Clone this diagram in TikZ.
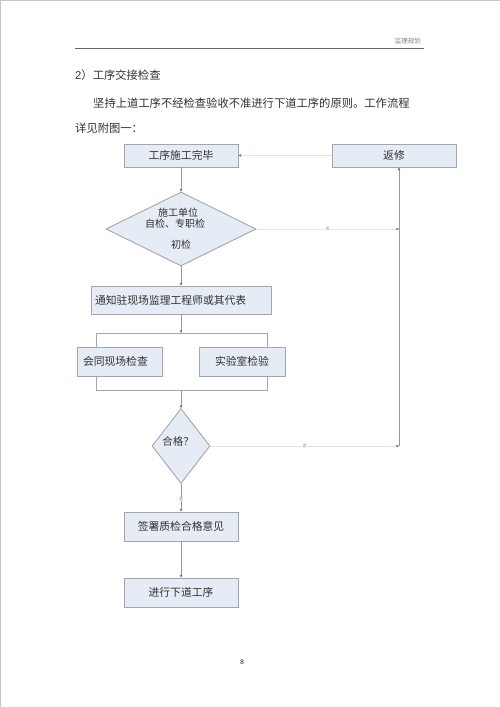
\documentclass[tikz,border=0pt]{standalone}
\usepackage{fontspec}
\setmainfont{Liberation Serif}
\newfontfamily\cjk{Noto Sans CJK SC}
\usetikzlibrary{arrows.meta,shapes.geometric}
\definecolor{boxfill}{HTML}{E6ECF6}
\definecolor{boxline}{HTML}{A3A6AB}
\definecolor{vline}{HTML}{8C98B4}
\definecolor{hline}{HTML}{E2E4E8}
\definecolor{tipc}{HTML}{4A64A0}
\definecolor{txt}{HTML}{303030}
\tikzset{
  x=1pt, y=-1pt,
  box/.style={draw=boxline, fill=boxfill, line width=0.9pt, inner sep=0pt, font=\cjk\fontsize{10.8}{12}\selectfont, text=txt},
  dia/.style={diamond, draw=boxline, fill=boxfill, line width=0.9pt, inner sep=0pt},
  plain/.style={font=\cjk\fontsize{11.3}{13}\selectfont, text=txt, inner sep=0pt, anchor=west},
  vcon/.style={draw=vline, line width=1pt, -{Stealth[length=3pt,width=2.6pt,color=tipc]}},
  hcon/.style={draw=hline, line width=1pt, -{Stealth[length=3pt,width=2.6pt,color=tipc]}},
  brk/.style={draw=boxline, line width=0.9pt},
  tiny/.style={font=\cjk\fontsize{4}{4}\selectfont, text=gray, fill=white, inner sep=0.5pt}
}
\begin{document}
\begin{tikzpicture}
\useasboundingbox (0,0) rectangle (500,707);
\draw[gray!45, line width=1pt] (0,0) rectangle (500,707);
% header
\node[font=\cjk\fontsize{6.5}{7}\selectfont, text=gray, anchor=east, inner sep=0pt] (hdr) at (421,41) {监理规划};
\coordinate (hl) at (75,48);
\coordinate (hr) at (424,48);
\draw[gray!80!black, line width=0.8pt] (hl) -- (hr);
% texts
\node[plain] (t1) at (75,75) {{\fontspec{Liberation Sans}2}）工序交接检查};
\node[plain] (t2) at (93,103) {坚持上道工序不经检查验收不准进行下道工序的原则。工作流程};
\node[plain] (t3) at (75,128) {详见附图一：};
% boxes
\node[box, minimum width=114pt, minimum height=23pt] (b1) at (181,155.5) {工序施工完毕};
\node[box, minimum width=124pt, minimum height=23pt] (fx) at (394,155.5) {返修};
\node[dia, minimum width=150pt, minimum height=74pt, aspect=2.03] (d1) at (181,229) {};
\node[font=\cjk\fontsize{10}{11}\selectfont, text=txt, inner sep=0pt] (d1a) at (178,213) {施工单位};
\node[font=\cjk\fontsize{10}{11}\selectfont, text=txt, inner sep=0pt] (d1b) at (175,224) {自检、专职检};
\node[font=\cjk\fontsize{10}{11}\selectfont, text=txt, inner sep=0pt] (d1c) at (181,245) {初检};
\node[box, minimum width=180pt, minimum height=28pt, text width=172pt, align=left] (b2) at (181,300) {通知驻现场监理工程师或其代表};
\node[box, minimum width=85pt, minimum height=29pt, text width=73pt, align=left] (b3) at (119.5,361.5) {会同现场检查};
\node[box, minimum width=86pt, minimum height=29pt] (b4) at (242,361.5) {实验室检验};
\node[dia, minimum width=58pt, minimum height=75pt, aspect=0.77] (d2) at (181,446) {};
\node[font=\cjk\fontsize{10.5}{11}\selectfont, text=txt, inner sep=0pt] (d2t) at (178,441) {合格？};
\node[box, minimum width=114pt, minimum height=29pt] (b5) at (181,526.5) {签署质检合格意见};
\node[box, minimum width=114pt, minimum height=29pt] (b6) at (181,592.5) {进行下道工序};
\node[font=\fontsize{7}{8}\selectfont, inner sep=0pt] (pg) at (242,662) {8};
% coordinates
\coordinate (rv) at (399,446);
\coordinate (rv1) at (399,229);
\coordinate (bt) at (181,333);
\coordinate (btl) at (96,333);
\coordinate (btr) at (267,333);
\coordinate (bb) at (181,390);
\coordinate (bbl) at (96,390);
\coordinate (bbr) at (267,390);
% connectors
\draw[hcon] (fx.west) -- (b1.east);
\draw[vcon] (b1.south) -- (d1.north);
\draw[hcon] (d1.east) -- node[tiny, pos=0.5] (n1) {否} (rv1);
\draw[vcon] (d1.south) -- (b2.north);
\draw[vcon] (b2.south) -- (bt);
\draw[brk] (btl |- b3.north) -- (btl) -- (btr) -- (btr |- b4.north);
\draw[brk] (bbl |- b3.south) -- (bbl) -- (bbr) -- (bbr |- b4.south);
\draw[vcon] (bb) -- (d2.north);
\draw[hcon] (d2.east) -- node[tiny, pos=0.5] (n2) {否} (rv);
\draw[draw=vline, line width=1pt] (rv) -- (rv1);
\draw[vcon] (rv1) -- (rv1 |- fx.south);
\draw[vcon] (d2.south) -- node[tiny, pos=0.55] (n3) {是} (b5.north);
\draw[vcon] (b5.south) -- (b6.north);
\end{tikzpicture}
\end{document}
